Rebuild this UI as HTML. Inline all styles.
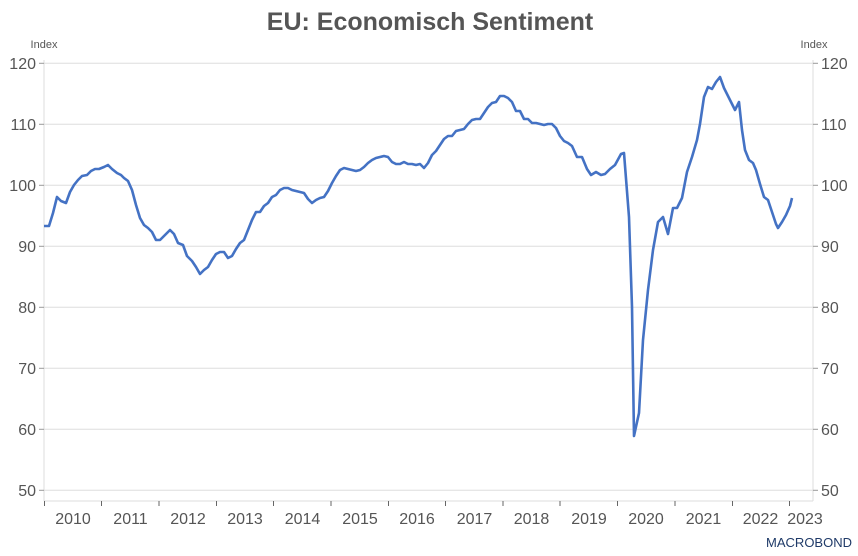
<!DOCTYPE html>
<html><head><meta charset="utf-8"><style>
body{margin:0;background:#fff;}
svg{display:block;font-family:"Liberation Sans",Arial,sans-serif;}
</style></head><body>
<svg width="858" height="556" viewBox="0 0 858 556">
<text x="430" y="30" text-anchor="middle" font-size="25" font-weight="bold" fill="#555">EU: Economisch Sentiment</text>
<text x="44" y="48" text-anchor="middle" font-size="11" fill="#555">Index</text>
<text x="814" y="48" text-anchor="middle" font-size="11" fill="#555">Index</text>
<g stroke="#ddd" stroke-width="1">
<line x1="44" y1="63.3" x2="813" y2="63.3"/>
<line x1="44" y1="124.3" x2="813" y2="124.3"/>
<line x1="44" y1="185.3" x2="813" y2="185.3"/>
<line x1="44" y1="246.3" x2="813" y2="246.3"/>
<line x1="44" y1="307.3" x2="813" y2="307.3"/>
<line x1="44" y1="368.3" x2="813" y2="368.3"/>
<line x1="44" y1="429.3" x2="813" y2="429.3"/>
<line x1="44" y1="490.3" x2="813" y2="490.3"/>
<line x1="44" y1="60" x2="44" y2="501"/>
<line x1="813" y1="60" x2="813" y2="501"/>
<line x1="44" y1="501" x2="813" y2="501"/>
</g>
<g stroke="#999" stroke-width="1">
<line x1="39" y1="63.3" x2="44" y2="63.3"/><line x1="39" y1="124.3" x2="44" y2="124.3"/><line x1="39" y1="185.3" x2="44" y2="185.3"/><line x1="39" y1="246.3" x2="44" y2="246.3"/><line x1="39" y1="307.3" x2="44" y2="307.3"/><line x1="39" y1="368.3" x2="44" y2="368.3"/><line x1="39" y1="429.3" x2="44" y2="429.3"/><line x1="39" y1="490.3" x2="44" y2="490.3"/>
<line x1="813" y1="63.3" x2="818" y2="63.3"/><line x1="813" y1="124.3" x2="818" y2="124.3"/><line x1="813" y1="185.3" x2="818" y2="185.3"/><line x1="813" y1="246.3" x2="818" y2="246.3"/><line x1="813" y1="307.3" x2="818" y2="307.3"/><line x1="813" y1="368.3" x2="818" y2="368.3"/><line x1="813" y1="429.3" x2="818" y2="429.3"/><line x1="813" y1="490.3" x2="818" y2="490.3"/>
</g>
<g stroke="#666" stroke-width="1">
<line x1="44.5" y1="501" x2="44.5" y2="506"/><line x1="101.5" y1="501" x2="101.5" y2="506"/><line x1="159" y1="501" x2="159" y2="506"/><line x1="216.5" y1="501" x2="216.5" y2="506"/><line x1="273.5" y1="501" x2="273.5" y2="506"/><line x1="331" y1="501" x2="331" y2="506"/><line x1="388.5" y1="501" x2="388.5" y2="506"/><line x1="445.5" y1="501" x2="445.5" y2="506"/><line x1="503" y1="501" x2="503" y2="506"/><line x1="560" y1="501" x2="560" y2="506"/><line x1="617.5" y1="501" x2="617.5" y2="506"/><line x1="675" y1="501" x2="675" y2="506"/><line x1="732.5" y1="501" x2="732.5" y2="506"/><line x1="789.5" y1="501" x2="789.5" y2="506"/>
</g>
<g font-size="16" fill="#555" text-anchor="end">
<text x="36" y="69">120</text><text x="36" y="130">110</text><text x="36" y="191">100</text><text x="36" y="252">90</text><text x="36" y="313">80</text><text x="36" y="374">70</text><text x="36" y="435">60</text><text x="36" y="496">50</text>
</g>
<g font-size="16" fill="#555" text-anchor="start">
<text x="821" y="69">120</text><text x="821" y="130">110</text><text x="821" y="191">100</text><text x="821" y="252">90</text><text x="821" y="313">80</text><text x="821" y="374">70</text><text x="821" y="435">60</text><text x="821" y="496">50</text>
</g>
<g font-size="16" fill="#555" text-anchor="middle">
<text x="73" y="524">2010</text><text x="130.5" y="524">2011</text><text x="188" y="524">2012</text><text x="245" y="524">2013</text><text x="302.5" y="524">2014</text><text x="360" y="524">2015</text><text x="417" y="524">2016</text><text x="474.5" y="524">2017</text><text x="531.5" y="524">2018</text><text x="589" y="524">2019</text><text x="646" y="524">2020</text><text x="703.5" y="524">2021</text><text x="760.5" y="524">2022</text><text x="805" y="524">2023</text>
</g>
<text x="852" y="547" text-anchor="end" font-size="13" fill="#1f3a68">MACROBOND</text>
<polyline fill="none" stroke="#4472c4" stroke-width="2.6" stroke-linejoin="round" points="44,226 49,226 53,213 57,197 61,201 66,203 70,192 74,185 78,180 82,176 87,175 91,171 95,169 99,169 104,167 108,165 112,169 117,173 121,175 124,178 128,181 132,190 136,205 140,218 144,225 148,228 152,232 156,240 160,240 164,236 170,230 174,234 178,243 183,245 187,256 192,261 196,267 200,274 204,270 208,267 212,260 216,254 220,252 224,252 228,258 232,256 236,249 240,243 244,240 248,230 252,220 256,212 260,212 264,206 268,203 272,197 276,195 280,190 284,188 288,188 292,190 296,191 300,192 304,193 308,199 312,203 316,200 320,198 324,197 328,191 332,183 336,176 340,170 344,168 348,169 352,170 356,171 360,170 364,167 368,163 372,160 376,158 380,157 384,156 388,157 392,162 396,164 400,164 404,162 408,164 412,164 416,165 420,164 424,168 428,163 432,155 436,151 440,145 444,139 448,136 452,136 456,131 460,130 464,129 468,124 472,120 476,119 480,119 484,113 488,107 492,103 496,102 500,96 504,96 508,98 512,102 516,111 520,111 524,119 528,119 532,123 536,123 540,124 544,125 548,124 552,124 556,128 560,136 564,141 568,143 572,146 577,157 582,157 587,169 591,175 596,172 601,175 605,174 610,169 615,165 621,154 624,153 629,217 632,307 634,436 639,413 643,340 648,290 653,250 658,222 663,217 668,234 673,208 677,208 682,198 687,172 692,157 697,140 700,124 704,97 708,87 712,89 716,82 720,77 724,88 728,96 732,104 735,110 739,102 742,130 745,150 749,160 753,163 756,170 760,184 764,197 768,200 772,212 776,224 778,228 782,222 786,215 790,206 792,198"/>
</svg>
</body></html>
